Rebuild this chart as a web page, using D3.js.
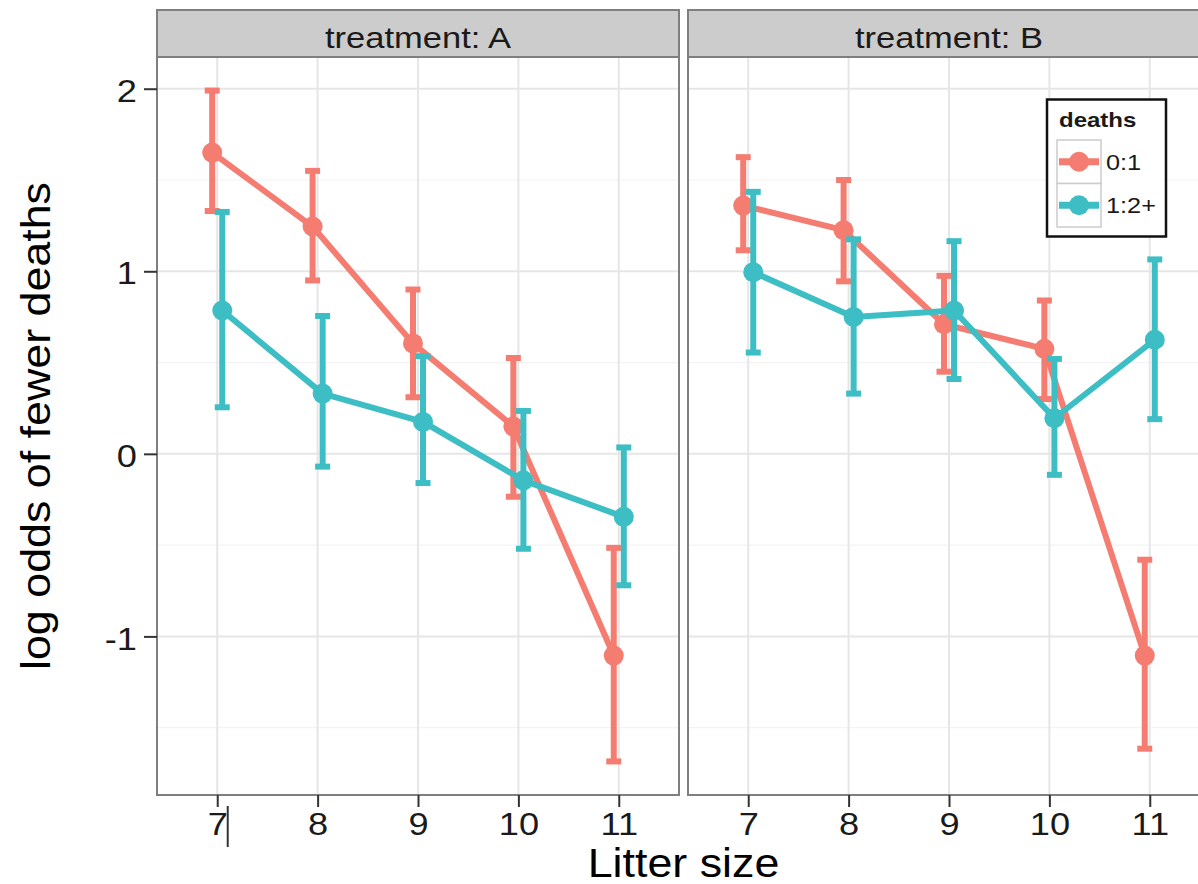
<!DOCTYPE html>
<html>
<head>
<meta charset="utf-8">
<script src="https://cdn.jsdelivr.net/npm/d3@7"></script>
<style>
  body { margin: 0; background: #fff; }
  svg { display: block; }
</style>
</head>
<body>
<svg id="chart" width="1198" height="884"></svg>
<script>
// ---- data -------------------------------------------------------------
const litterSizes = [7, 8, 9, 10, 11];
const treatments = ["A", "B"];
const deathGroups = ["0:1", "1:2+"];
const yTickValues = [-1, 0, 1, 2];
const yMinorValues = [-1.5, -0.5, 0.5, 1.5];

// treatment A: estimate and interval per litter size
const estA_01  = [1.65, 1.245, 0.605, 0.15, -1.105];
const lowA_01  = [1.33, 0.95, 0.31, -0.235, -1.685];
const highA_01 = [1.99, 1.55, 0.90, 0.525, -0.515];
const estA_12  = [0.785, 0.33, 0.175, -0.145, -0.345];
const lowA_12  = [0.255, -0.07, -0.16, -0.52, -0.72];
const highA_12 = [1.325, 0.755, 0.535, 0.235, 0.035];

// treatment B
const estB_01  = [1.36, 1.225, 0.71, 0.575, -1.105];
const lowB_01  = [1.115, 0.945, 0.45, 0.30, -1.615];
const highB_01 = [1.625, 1.50, 0.975, 0.84, -0.58];
const estB_12  = [0.995, 0.75, 0.785, 0.195, 0.625];
const lowB_12  = [0.555, 0.33, 0.41, -0.115, 0.19];
const highB_12 = [1.435, 1.175, 1.165, 0.52, 1.065];

const seriesTable = {
  A: { "0:1": [estA_01, lowA_01, highA_01], "1:2+": [estA_12, lowA_12, highA_12] },
  B: { "0:1": [estB_01, lowB_01, highB_01], "1:2+": [estB_12, lowB_12, highB_12] }
};

// ---- styling / layout -------------------------------------------------
const FONT = "'Liberation Sans', Arial, Helvetica, sans-serif";
const colour = d3.scaleOrdinal().domain(deathGroups).range(["#F47C70", "#3DBEC4"]);
const panelTop = 57, panelBottom = 795, stripTop = 10;
const panelX = { A: [157, 679], B: [688, 1210] };
const WIDE = 1.15; // horizontal glyph stretch of the text face

const svg = d3.select("#chart");

// flatten into rows
const rows = [];
treatments.forEach(t => deathGroups.forEach(g => {
  const [est, lo, hi] = seriesTable[t][g];
  litterSizes.forEach((s, i) => rows.push({ treatment: t, group: g, size: s, est: est[i], lo: lo[i], hi: hi[i] }));
}));

const yLo = d3.min(rows, d => d.lo), yHi = d3.max(rows, d => d.hi);
const pad = (yHi - yLo) * 0.05;
const y = d3.scaleLinear().domain([yLo - pad, yHi + pad]).range([panelBottom, panelTop]);

function widen(sel, k) {
  sel.each(function () {
    const t = d3.select(this);
    const x = +t.attr("x") || 0, yy = +t.attr("y") || 0;
    t.attr("x", 0).attr("y", 0).attr("transform", `translate(${x},${yy}) scale(${k},1)`);
  });
}

treatments.forEach(t => {
  const [x0, x1] = panelX[t];
  const x = d3.scalePoint().domain(litterSizes).range([x0, x1]).padding(0.6);
  const dodge = x.step() * 0.05;
  const offset = { "0:1": -dodge, "1:2+": dodge };
  const g = svg.append("g");

  // background + grid
  g.append("rect").attr("x", x0).attr("y", panelTop).attr("width", x1 - x0)
    .attr("height", panelBottom - panelTop).attr("fill", "#fff");
  g.selectAll(".minor").data(yMinorValues).join("line")
    .attr("x1", x0).attr("x2", x1).attr("y1", d => y(d)).attr("y2", d => y(d))
    .attr("stroke", "#F3F3F3").attr("stroke-width", 1.2);
  g.selectAll(".majorY").data(yTickValues).join("line")
    .attr("x1", x0).attr("x2", x1).attr("y1", d => y(d)).attr("y2", d => y(d))
    .attr("stroke", "#E6E6E6").attr("stroke-width", 2);
  g.selectAll(".majorX").data(litterSizes).join("line")
    .attr("x1", d => x(d)).attr("x2", d => x(d)).attr("y1", panelTop).attr("y2", panelBottom)
    .attr("stroke", "#E6E6E6").attr("stroke-width", 2);

  // series: interval bars, connecting line, points
  deathGroups.forEach(grp => {
    const data = rows.filter(r => r.treatment === t && r.group === grp);
    const c = colour(grp);
    const px = d => x(d.size) + offset[grp];
    const capHalf = 7.5;
    const eb = g.append("g").attr("stroke", c).attr("stroke-width", 6);
    eb.selectAll(".stem").data(data).join("line")
      .attr("x1", px).attr("x2", px).attr("y1", d => y(d.lo)).attr("y2", d => y(d.hi));
    eb.selectAll(".capTop").data(data).join("line")
      .attr("x1", d => px(d) - capHalf).attr("x2", d => px(d) + capHalf)
      .attr("y1", d => y(d.hi)).attr("y2", d => y(d.hi));
    eb.selectAll(".capBot").data(data).join("line")
      .attr("x1", d => px(d) - capHalf).attr("x2", d => px(d) + capHalf)
      .attr("y1", d => y(d.lo)).attr("y2", d => y(d.lo));

    g.append("path").datum(data)
      .attr("d", d3.line().x(px).y(d => y(d.est)))
      .attr("fill", "none").attr("stroke", c).attr("stroke-width", 6)
      .attr("stroke-linejoin", "round");

    g.selectAll(null).data(data).join("circle")
      .attr("cx", px).attr("cy", d => y(d.est)).attr("r", 10).attr("fill", c);
  });

  // panel border
  g.append("rect").attr("x", x0).attr("y", panelTop).attr("width", x1 - x0)
    .attr("height", panelBottom - panelTop).attr("fill", "none")
    .attr("stroke", "#7F7F7F").attr("stroke-width", 2);

  // strip
  g.append("rect").attr("x", x0).attr("y", stripTop).attr("width", x1 - x0)
    .attr("height", panelTop - stripTop).attr("fill", "#CCCCCC")
    .attr("stroke", "#7F7F7F").attr("stroke-width", 2);
  const stripLabel = g.append("text").attr("x", (x0 + x1) / 2).attr("y", 47.5)
    .attr("text-anchor", "middle").attr("font-family", FONT).attr("font-size", 29.5)
    .attr("fill", "#1a1a1a").text(`treatment: ${t}`);
  widen(stripLabel, 1.17);

  // x axis
  const xAxis = g.append("g").attr("transform", `translate(0,${panelBottom})`)
    .call(d3.axisBottom(x).tickSize(12).tickPadding(6));
  xAxis.select(".domain").remove();
  xAxis.selectAll(".tick line").attr("stroke", "#333").attr("stroke-width", 2);
  xAxis.selectAll(".tick text").attr("font-family", FONT).attr("font-size", 31.5)
    .attr("fill", "#1a1a1a").attr("dy", "0.71em");
  widen(xAxis.selectAll(".tick text"), WIDE);

  if (t === "A") {
    const yAxis = g.append("g").attr("transform", `translate(${x0},0)`)
      .call(d3.axisLeft(y).tickValues(yTickValues).tickFormat(d => String(d)).tickSize(13).tickPadding(7));
    yAxis.select(".domain").remove();
    yAxis.selectAll(".tick line").attr("stroke", "#333").attr("stroke-width", 2);
    yAxis.selectAll(".tick text").attr("font-family", FONT).attr("font-size", 31.5)
      .attr("fill", "#1a1a1a").attr("dy", "0.4em");
    widen(yAxis.selectAll(".tick text"), WIDE);

    // text caret standing after the first tick label
    g.append("line").attr("x1", x(7) + 10.5).attr("x2", x(7) + 10.5)
      .attr("y1", 806).attr("y2", 847).attr("stroke", "#333").attr("stroke-width", 2);
  }

  if (t === "B") {
    // legend
    const lg = g.append("g");
    lg.append("rect").attr("x", 1047).attr("y", 99.5).attr("width", 119).attr("height", 137)
      .attr("fill", "#fff").attr("stroke", "#111").attr("stroke-width", 2.5);
    const lt = lg.append("text").attr("x", 1059).attr("y", 127)
      .attr("font-family", FONT).attr("font-size", 20).attr("font-weight", "bold")
      .attr("fill", "#1a1a1a").text("deaths");
    widen(lt, 1.2);
    deathGroups.forEach((grp, i) => {
      const ky = 140 + i * 43.5;
      lg.append("rect").attr("x", 1057).attr("y", ky).attr("width", 44).attr("height", 43.5)
        .attr("fill", "#fff").attr("stroke", "#CCCCCC").attr("stroke-width", 1.5);
      const cy = ky + 21.75;
      lg.append("line").attr("x1", 1059).attr("x2", 1099).attr("y1", cy).attr("y2", cy)
        .attr("stroke", colour(grp)).attr("stroke-width", 7);
      lg.append("circle").attr("cx", 1079).attr("cy", cy).attr("r", 10).attr("fill", colour(grp));
      const lab = lg.append("text").attr("x", 1106).attr("y", cy + 8)
        .attr("font-family", FONT).attr("font-size", 22).attr("fill", "#1a1a1a").text(grp);
      widen(lab, 1.15);
    });
  }
});

// axis titles
svg.append("text")
  .attr("transform", `translate(${(panelX.A[0] + panelX.B[1]) / 2},877) scale(1.12,1)`)
  .attr("text-anchor", "middle").attr("font-family", FONT).attr("font-size", 40)
  .attr("fill", "#000").text("Litter size");
svg.append("text")
  .attr("transform", `translate(50,${(panelTop + panelBottom) / 2}) rotate(-90) scale(1.12,1)`)
  .attr("text-anchor", "middle").attr("font-family", FONT).attr("font-size", 40)
  .attr("fill", "#000").text("log odds of fewer deaths");
</script>
</body>
</html>
